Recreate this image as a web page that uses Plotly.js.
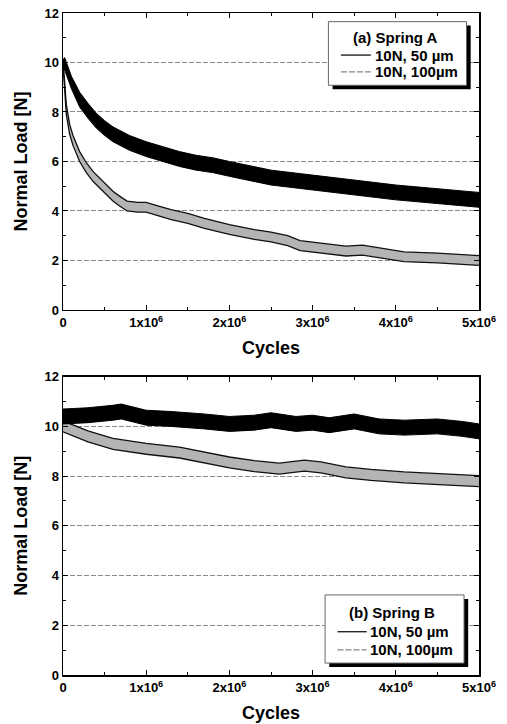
<!DOCTYPE html>
<html>
<head>
<meta charset="utf-8">
<script src="https://cdn.plot.ly/plotly-3.0.1.min.js"></script>
<style>html,body{margin:0;padding:0;background:#fff;}#chart{width:507px;height:724px;}</style>
</head>
<body>
<div id="chart"></div>
<script>
// Cycles in units of 10^6
const xTickVals = [0, 1, 2, 3, 4, 5];
const xTickText = ['0', '1x10<sup>6</sup>', '2x10<sup>6</sup>', '3x10<sup>6</sup>', '4x10<sup>6</sup>', '5x10<sup>6</sup>'];
const yTickVals = [0, 2, 4, 6, 8, 10, 12];

// (a) Spring A, 10N 50 um : band envelope
const aCycles50 = [0, 0.02, 0.1, 0.2, 0.3, 0.4, 0.5, 0.6, 0.8, 1.0, 1.2, 1.4, 1.6, 1.8, 2.0, 2.5, 3.0, 3.5, 4.0, 4.5, 5.0];
const aUpper50  = [10.1, 10.2, 9.45, 8.8, 8.35, 7.95, 7.65, 7.4, 7.05, 6.8, 6.6, 6.4, 6.25, 6.15, 6.0, 5.65, 5.45, 5.25, 5.05, 4.9, 4.75];
const aLower50  = [9.7, 9.7, 8.95, 8.2, 7.75, 7.35, 7.05, 6.8, 6.45, 6.2, 6.0, 5.8, 5.65, 5.55, 5.4, 5.05, 4.85, 4.65, 4.45, 4.3, 4.15];

// (a) Spring A, 10N 100 um : band envelope
const aCycles100 = [0, 0.02, 0.04, 0.08, 0.12, 0.2, 0.28, 0.36, 0.45, 0.52, 0.6, 0.68, 0.77, 0.9, 1.0, 1.15, 1.3, 1.5, 1.7, 2.0, 2.3, 2.5, 2.7, 2.85, 3.1, 3.4, 3.6, 3.8, 4.1, 4.5, 5.0];
const aUpper100  = [10.1, 9.2, 8.3, 7.5, 7.05, 6.4, 5.95, 5.6, 5.3, 5.05, 4.8, 4.6, 4.4, 4.35, 4.35, 4.2, 4.05, 3.9, 3.7, 3.45, 3.25, 3.15, 3.0, 2.8, 2.7, 2.58, 2.62, 2.5, 2.35, 2.3, 2.2];
const aLower100  = [9.9, 8.8, 7.9, 7.1, 6.65, 6.0, 5.55, 5.2, 4.9, 4.65, 4.4, 4.2, 4.0, 3.95, 3.95, 3.8, 3.65, 3.5, 3.3, 3.05, 2.85, 2.75, 2.6, 2.4, 2.3, 2.18, 2.22, 2.1, 1.95, 1.9, 1.8];

// (b) Spring B, 10N 50 um : band envelope
const bCycles50 = [0, 0.3, 0.6, 0.7, 1.0, 1.3, 1.7, 2.0, 2.3, 2.5, 2.8, 3.0, 3.2, 3.5, 3.8, 4.1, 4.5, 4.8, 5.0];
const bUpper50  = [10.7, 10.75, 10.85, 10.9, 10.65, 10.6, 10.5, 10.4, 10.45, 10.55, 10.4, 10.45, 10.35, 10.5, 10.3, 10.25, 10.3, 10.2, 10.1];
const bLower50  = [10.1, 10.15, 10.25, 10.3, 10.05, 10.0, 9.9, 9.8, 9.85, 9.95, 9.8, 9.85, 9.75, 9.9, 9.7, 9.65, 9.7, 9.6, 9.5];

// (b) Spring B, 10N 100 um : band envelope
const bCycles100 = [0, 0.15, 0.3, 0.6, 1.0, 1.4, 1.7, 2.0, 2.3, 2.6, 2.9, 3.1, 3.4, 3.7, 4.1, 4.5, 4.8, 5.0];
const bUpper100  = [10.22, 10.02, 9.82, 9.52, 9.32, 9.17, 8.97, 8.77, 8.62, 8.52, 8.64, 8.57, 8.37, 8.27, 8.17, 8.1, 8.04, 8.02];
const bLower100  = [9.78, 9.58, 9.38, 9.08, 8.88, 8.73, 8.53, 8.33, 8.18, 8.08, 8.2, 8.13, 7.93, 7.83, 7.73, 7.66, 7.6, 7.58];

const legendA = ['(a) Spring A', '10N, 50 µm', '10N, 100µm'];
const legendB = ['(b) Spring B', '10N, 50 µm', '10N, 100µm'];

const GREY = '#b4b4b4';

function band(x, lo, hi, xa, ya, fill, edge, edgeW) {
  return [
    {x: x, y: lo, xaxis: xa, yaxis: ya, mode: 'lines', line: {color: edge, width: edgeW}, hoverinfo: 'skip', showlegend: false},
    {x: x, y: hi, xaxis: xa, yaxis: ya, mode: 'lines', fill: 'tonexty', fillcolor: fill, line: {color: edge, width: edgeW}, hoverinfo: 'skip', showlegend: false}
  ];
}

const data = [].concat(
  band(aCycles100, aLower100, aUpper100, 'x', 'y', GREY, '#111', 1.3),
  band(aCycles50, aLower50, aUpper50, 'x', 'y', '#000', '#000', 1),
  band(bCycles100, bLower100, bUpper100, 'x2', 'y2', GREY, '#111', 1.3),
  band(bCycles50, bLower50, bUpper50, 'x2', 'y2', '#000', '#000', 1)
);

const FONT = 'Liberation Sans, Arial, sans-serif';

function xAxis(anchor) {
  return {
    anchor: anchor, domain: [0, 1], range: [0, 5], tickmode: 'array', tickvals: xTickVals, ticktext: xTickText,
    ticks: 'inside', ticklen: 5, tickwidth: 1, tickcolor: '#000', mirror: 'ticks', showline: true, linecolor: '#000', linewidth: 1.5,
    showgrid: false, zeroline: false,
    minor: {ticks: 'inside', ticklen: 3, tickcolor: '#000', dtick: 0.5, showgrid: false},
    tickfont: {family: FONT, size: 13, color: '#000', weight: 'bold'},
    title: {text: 'Cycles', font: {family: FONT, size: 18, color: '#000', weight: 'bold'}, standoff: 12}
  };
}
function yAxis(anchor, domain) {
  return {
    anchor: anchor, domain: domain, range: [0, 12], tickmode: 'array', tickvals: yTickVals,
    ticks: 'inside', ticklen: 5, tickwidth: 1, tickcolor: '#000', mirror: 'ticks', showline: true, linecolor: '#000', linewidth: 1.5,
    showgrid: true, gridcolor: '#8a8a8a', gridwidth: 1, griddash: '5px,2px', zeroline: false,
    minor: {ticks: 'inside', ticklen: 3, tickcolor: '#000', dtick: 1, showgrid: false},
    tickfont: {family: FONT, size: 13, color: '#000', weight: 'bold'},
    title: {text: 'Normal Load [N]', font: {family: FONT, size: 18, color: '#000', weight: 'bold'}, standoff: 12}
  };
}

function legendShapes(xa, ya, x0, x1, y0, y1, dx, dy, s1, s2, l1, l2) {
  return [
    {type: 'rect', xref: xa, yref: ya, x0: x0 + dx, x1: x1 + dx, y0: y0 - dy, y1: y1 - dy, fillcolor: '#000', line: {width: 0}, layer: 'above'},
    {type: 'rect', xref: xa, yref: ya, x0: x0, x1: x1, y0: y0, y1: y1, fillcolor: '#fff', line: {color: '#666', width: 1}, layer: 'above'},
    {type: 'line', xref: xa, yref: ya, x0: s1, x1: s2, y0: l1, y1: l1, line: {color: '#000', width: 1.2}, layer: 'above'},
    {type: 'line', xref: xa, yref: ya, x0: s1, x1: s2, y0: l2, y1: l2, line: {color: '#888', width: 1.2, dash: '6px,2px'}, layer: 'above'}
  ];
}

const shapes = [].concat(
  legendShapes('x', 'y', 3.19, 4.85, 9.08, 11.65, 0.05, 0.16, 3.34, 3.70, 10.3, 9.62),
  legendShapes('x2', 'y2', 3.15, 4.82, 0.48, 3.22, 0.05, 0.16, 3.30, 3.65, 1.74, 1.01)
);

function legendAnn(xa, ya, labels, cx, ty, lx, y1, y2) {
  const f = {family: FONT, size: 15, color: '#000', weight: 'bold'};
  return [
    {xref: xa, yref: ya, x: cx, y: ty, text: labels[0], showarrow: false, xanchor: 'center', yanchor: 'middle', font: f},
    {xref: xa, yref: ya, x: lx, y: y1, text: labels[1], showarrow: false, xanchor: 'left', yanchor: 'middle', font: f},
    {xref: xa, yref: ya, x: lx, y: y2, text: labels[2], showarrow: false, xanchor: 'left', yanchor: 'middle', font: f}
  ];
}
const annotations = [].concat(
  legendAnn('x', 'y', legendA, 4.0, 11.03, 3.72, 10.3, 9.62),
  legendAnn('x2', 'y2', legendB, 3.95, 2.53, 3.67, 1.74, 1.01)
);

const layout = {
  width: 507, height: 724,
  margin: {l: 63, r: 28, t: 13, b: 49},
  paper_bgcolor: '#fff', plot_bgcolor: '#fff',
  showlegend: false,
  xaxis: xAxis('y'),
  yaxis: yAxis('x', [0.5514, 1]),
  xaxis2: xAxis('y2'),
  yaxis2: yAxis('x2', [0, 0.4506]),
  shapes: shapes,
  annotations: annotations
};

Plotly.newPlot('chart', data, layout, {staticPlot: true});
</script>
</body>
</html>
